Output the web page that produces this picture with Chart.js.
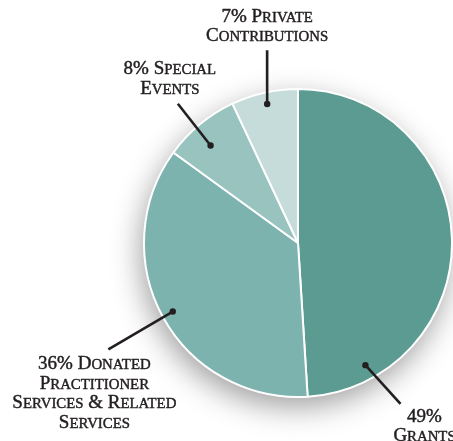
<!DOCTYPE html>
<html>
<head>
<meta charset="utf-8">
<script src="https://cdn.jsdelivr.net/npm/chart.js@4"></script>
<style>
  html, body { margin: 0; padding: 0; background: #ffffff; }
  #wrap { width: 453px; height: 441px; position: relative; }
</style>
</head>
<body>
<div id="wrap"><canvas id="c" width="453" height="441"></canvas></div>
<script>
// ---- data ----
const categories = ['Grants', 'Donated Practitioner Services & Related Services', 'Special Events', 'Private Contributions'];
const values = [49, 36, 8, 7];
// label text lines (the first line gets the percentage prepended)
const labelLines = [
  ['', 'Grants'],
  ['Donated', 'Practitioner', 'Services & Related', 'Services'],
  ['Special', 'Events'],
  ['Private', 'Contributions']
];
const colors = ['#5b9b91', '#7db3af', '#98c3bf', '#c5dcda'];

// ---- label layout (polar, relative to the pie) ----
const labelLayout = [
  { dotA: 151.1, dotR: 0.906, endA: 147.5, endR: 1.239, dx: 24,  dy: 18,  anchor: 'top' },
  { dotA: 241.3, dotR: 0.927, endA: 240.7, endR: 1.412, dx: -14, dy: 20,  anchor: 'top' },
  { dotA: -41.9, dotR: 0.85,  endA: -40.8, endR: 1.194, dx: -8,  dy: -10, anchor: 'bottom' },
  { dotA: -12.5, dotR: 0.925, endA: -9.1,  endR: 1.268, dx: 0,   dy: -9,  anchor: 'bottom' }
];

const FONT_FAMILY = '"Liberation Serif", "Times New Roman", serif';
const FONT_SIZE = 19;
const SC_RATIO = 0.78;
const LINE_H = 19.5;
const TEXT_COLOR = '#231f20';

function scRuns(text) {
  const runs = [];
  for (const ch of text) {
    const small = ch !== ch.toUpperCase();
    const c = small ? ch.toUpperCase() : ch;
    if (runs.length && runs[runs.length - 1].small === small) runs[runs.length - 1].t += c;
    else runs.push({ t: c, small });
  }
  return runs;
}
function setFont(ctx, small) {
  ctx.font = (small ? (FONT_SIZE * SC_RATIO).toFixed(2) : FONT_SIZE) + 'px ' + FONT_FAMILY;
}
function measureSC(ctx, text) {
  let w = 0;
  for (const r of scRuns(text)) { setFont(ctx, r.small); w += ctx.measureText(r.t).width; }
  return w;
}
function drawSC(ctx, text, cx, baseline) {
  const w = measureSC(ctx, text);
  let x = cx - w / 2;
  ctx.textAlign = 'left';
  ctx.textBaseline = 'alphabetic';
  ctx.lineWidth = 0.45;
  ctx.lineJoin = 'round';
  for (const r of scRuns(text)) {
    setFont(ctx, r.small);
    ctx.fillText(r.t, x, baseline);
    ctx.strokeText(r.t, x, baseline);
    x += ctx.measureText(r.t).width;
  }
}
function polar(cx, cy, r, deg, frac) {
  const a = deg * Math.PI / 180;
  return { x: cx + Math.sin(a) * r * frac, y: cy - Math.cos(a) * r * frac };
}

const shadowPlugin = {
  id: 'pieShadow',
  beforeDatasetsDraw(chart) {
    const arc = chart.getDatasetMeta(0).data[0];
    if (!arc) return;
    const ctx = chart.ctx;
    ctx.save();
    ctx.shadowColor = 'rgba(0,0,0,0.38)';
    ctx.shadowBlur = 30;
    ctx.shadowOffsetX = -3;
    ctx.shadowOffsetY = 10;
    ctx.fillStyle = '#ffffff';
    ctx.beginPath();
    ctx.arc(arc.x, arc.y, arc.outerRadius, 0, Math.PI * 2);
    ctx.fill();
    ctx.restore();
  }
};

const labelPlugin = {
  id: 'pieLabels',
  afterDatasetsDraw(chart) {
    const meta = chart.getDatasetMeta(0);
    const arc0 = meta.data[0];
    if (!arc0) return;
    const cx = arc0.x, cy = arc0.y, r = arc0.outerRadius;
    const ctx = chart.ctx;
    ctx.save();
    labelLayout.forEach((L, i) => {
      const d = polar(cx, cy, r, L.dotA, L.dotR);
      const e = polar(cx, cy, r, L.endA, L.endR);
      ctx.strokeStyle = TEXT_COLOR;
      ctx.fillStyle = TEXT_COLOR;
      ctx.lineWidth = 2.6;
      ctx.lineCap = 'butt';
      ctx.beginPath();
      ctx.moveTo(d.x, d.y);
      ctx.lineTo(e.x, e.y);
      ctx.stroke();
      ctx.beginPath();
      ctx.arc(d.x, d.y, 3.2, 0, Math.PI * 2);
      ctx.fill();
      const lines = labelLines[i].slice();
      lines[0] = (values[i] + '% ' + lines[0]).trim();
      const tx = e.x + L.dx;
      let base;
      if (L.anchor === 'top') base = e.y + L.dy;
      else base = e.y + L.dy - (lines.length - 1) * LINE_H;
      lines.forEach((ln, k) => drawSC(ctx, ln, tx, base + k * LINE_H));
    });
    ctx.restore();
  }
};

new Chart(document.getElementById('c'), {
  type: 'pie',
  data: {
    labels: categories,
    datasets: [{
      data: values,
      backgroundColor: colors,
      borderColor: '#ffffff',
      borderWidth: 2
    }]
  },
  options: {
    responsive: false,
    animation: false,
    devicePixelRatio: 1,
    layout: { padding: { left: 143, right: 0, top: 88, bottom: 43 } },
    plugins: {
      legend: { display: false },
      tooltip: { enabled: false }
    }
  },
  plugins: [shadowPlugin, labelPlugin]
});
</script>
</body>
</html>
